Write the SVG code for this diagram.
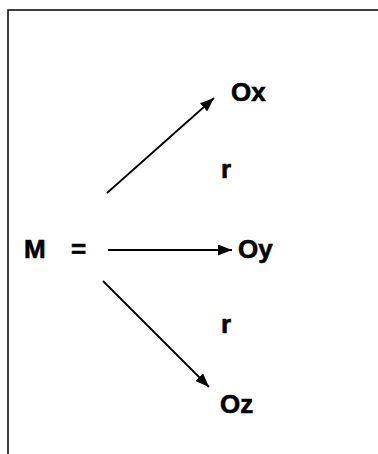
<svg xmlns="http://www.w3.org/2000/svg" width="378" height="454" viewBox="0 0 378 454">
<style>
.t{font-family:"Liberation Sans",Arial,sans-serif;font-weight:bold;font-size:26px;fill:#000;stroke:#000;stroke-width:0.6}
.c{stroke:#000;stroke-width:1.8;fill:none}
.frame{stroke:#000;stroke-width:1.5;fill:none}
</style>
<defs>
<marker id="ah" viewBox="0 0 14 11" refX="14" refY="5.5" markerWidth="14" markerHeight="11" markerUnits="userSpaceOnUse" orient="auto">
<path d="M0,0 L14,5.5 L0,11 Z" fill="#000"/>
</marker>
</defs>
<rect width="378" height="454" fill="#fff"/>
<path class="frame" d="M8,454 V10 H378"/>
<g id="M"><text class="t" x="24" y="258">M</text></g>
<g id="eq"><text class="t" x="71" y="258">=</text></g>
<g id="Ox"><text class="t" x="231" y="101">Ox</text></g>
<g id="Oy"><text class="t" x="238" y="258">Oy</text></g>
<g id="Oz"><text class="t" x="220" y="413">Oz</text></g>
<g id="r1"><text class="t" x="221" y="178">r</text></g>
<g id="r2"><text class="t" x="221" y="333">r</text></g>
<g id="connectors">
<line class="c" x1="107" y1="193" x2="214" y2="98" marker-end="url(#ah)"/>
<line class="c" x1="108" y1="250" x2="232" y2="250" marker-end="url(#ah)"/>
<line class="c" x1="103" y1="281" x2="209" y2="387" marker-end="url(#ah)"/>
</g>
</svg>
